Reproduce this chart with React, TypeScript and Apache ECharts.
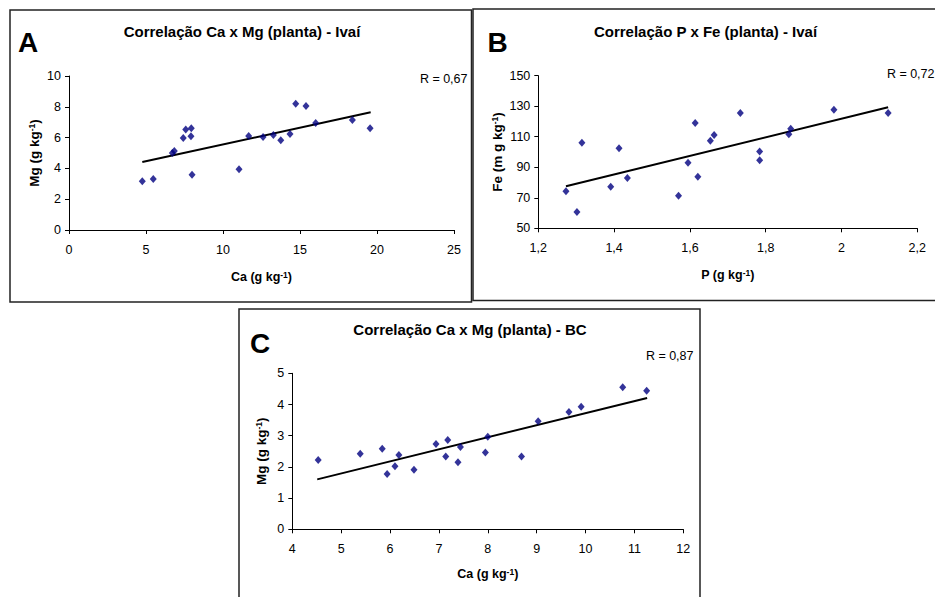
import React, { useEffect, useRef } from "react";
import * as echarts from "echarts";

// Panel A: Ca x Mg (planta) - Ivaí
const caA = [4.76, 5.47, 6.71, 6.84, 7.42, 7.58, 7.94, 7.92, 7.99, 11.04, 11.67, 12.6, 13.27, 13.75, 14.35, 14.72, 15.39, 16.02, 18.4, 19.55];
const mgA = [3.16, 3.31, 5.0, 5.13, 5.97, 6.52, 6.6, 6.08, 3.59, 3.94, 6.1, 6.04, 6.17, 5.82, 6.23, 8.2, 8.05, 6.95, 7.14, 6.6];
const trendAx = [4.76, 19.59];
const trendAy = [4.42, 7.64];

// Panel B: P x Fe (planta) - Ivaí
const pB = [1.273, 1.302, 1.315, 1.391, 1.413, 1.435, 1.57, 1.595, 1.614, 1.621, 1.654, 1.664, 1.733, 1.784, 1.784, 1.861, 1.866, 1.98, 2.123];
const feB = [74.2, 60.7, 106.1, 77.3, 102.4, 83, 71.4, 93, 119, 83.8, 107.4, 111.1, 125.6, 100.4, 94.6, 111.6, 115.3, 127.7, 125.6];
const trendBx = [1.273, 2.123];
const trendBy = [77.5, 129.3];

// Panel C: Ca x Mg (planta) - BC
const caC = [4.53, 5.39, 5.84, 5.94, 6.1, 6.18, 6.49, 6.94, 7.14, 7.18, 7.39, 7.44, 7.95, 8.0, 8.69, 9.03, 9.66, 9.91, 10.76, 11.25];
const mgC = [2.22, 2.42, 2.58, 1.77, 2.02, 2.38, 1.91, 2.73, 2.33, 2.86, 2.15, 2.64, 2.46, 2.97, 2.33, 3.46, 3.76, 3.93, 4.55, 4.44];
const trendCx = [4.51, 11.26];
const trendCy = [1.6, 4.21];

const titles = ["Correlação Ca x Mg (planta) - Ivaí", "Correlação P x Fe (planta) - Ivaí", "Correlação Ca x Mg (planta) - BC"];
const panelLetters = ["A", "B", "C"];
const rLabels = ["R = 0,67", "R = 0,72", "R = 0,87"];
const xNames = ["Ca", "P", "Ca"];
const yNames = ["Mg", "Fe", "Mg"];
const yUnits = ["g kg", "m g kg", "g kg"];

const FONT = '"Liberation Sans", Arial, Helvetica, sans-serif';

const zip = (a: number[], b: number[]) => a.map((v, i) => [v, b[i]]);
const fmtComma = (v: number) => String(Math.round(v * 10) / 10).replace(".", ",");

export default function App() {
  const ref = useRef<HTMLDivElement>(null);
  useEffect(() => {
    if (!ref.current) return;
    const chart = echarts.init(ref.current, undefined, { renderer: "svg" });

    const mkName = (size: number) => ({
      fontFamily: FONT,
      fontWeight: "bold" as const,
      fontSize: size,
      color: "#000",
      rich: {
        s: { fontFamily: FONT, fontWeight: "bold" as const, fontSize: 8.5, color: "#000", verticalAlign: "top" as const, lineHeight: 8 },
      },
    });
    const axisCommon = {
      axisLine: { show: true, lineStyle: { color: "#000", width: 1 } },
      axisTick: { show: true, length: 4, inside: false, lineStyle: { color: "#000" } },
      splitLine: { show: false },
    };
    const xLabel = { color: "#000", fontFamily: FONT, fontSize: 12.5, margin: 13 };
    const yLabel = { color: "#000", fontFamily: FONT, fontSize: 12.5, margin: 8 };

    const grids = [
      { left: 69, top: 76, width: 385, height: 154 },
      { left: 538.3, top: 75.7, width: 379, height: 152.6 },
      { left: 292.3, top: 373.3, width: 391, height: 156 },
    ];

    const xRanges = [
      { min: 0, max: 25, interval: 5 },
      { min: 1.2, max: 2.2, interval: 0.2 },
      { min: 4, max: 12, interval: 1 },
    ];
    const yRanges = [
      { min: 0, max: 10, interval: 2 },
      { min: 50, max: 150, interval: 20 },
      { min: 0, max: 5, interval: 1 },
    ];

    const xAxis = xRanges.map((r, i) => ({
      type: "value" as const,
      gridIndex: i,
      ...r,
      ...axisCommon,
      nameTextStyle: mkName(12.5),
      axisLabel: i === 1 ? { ...xLabel, formatter: (v: number) => fmtComma(v) } : xLabel,
      name: `${xNames[i]} (g kg{s|-1})`,
      nameLocation: "middle" as const,
      nameGap: i === 2 ? 38 : 40,
    }));
    const yAxis = yRanges.map((r, i) => ({
      type: "value" as const,
      gridIndex: i,
      ...r,
      ...axisCommon,
      nameTextStyle: mkName(13.5),
      axisLabel: yLabel,
      name: `${yNames[i]} (${yUnits[i]}{s|-1})`,
      nameLocation: "middle" as const,
      nameRotate: 90,
      nameGap: i === 1 ? 34 : i === 2 ? 24 : 28,
    }));

    const scatter = (i: number, data: number[][]) => ({
      type: "scatter" as const,
      xAxisIndex: i,
      yAxisIndex: i,
      data,
      symbol: "diamond",
      symbolSize: [7, 8],
      itemStyle: { color: "#000080" },
      silent: true,
    });
    const trend = (i: number, xs: number[], ys: number[]) => ({
      type: "line" as const,
      xAxisIndex: i,
      yAxisIndex: i,
      data: zip(xs, ys),
      symbol: "none",
      lineStyle: { color: "#000", width: 2 },
      silent: true,
      z: 1,
    });

    const boxes = [
      { x: 10, y: 10, width: 461.5, height: 292 },
      { x: 473, y: 9, width: 470, height: 291.5 },
      { x: 239, y: 309, width: 461, height: 300 },
    ];
    const titlePos = [
      [242, 31.5],
      [705.5, 31.5],
      [470, 329.5],
    ];
    const letterPos = [
      [18, 42],
      [487.5, 42.5],
      [250, 343],
    ];
    const rPos = [
      [467.5, 78.5],
      [934.5, 74],
      [693.5, 356],
    ];

    const graphic: any[] = [];
    boxes.forEach((b) => {
      graphic.push({ type: "rect", shape: b, style: { fill: "none", stroke: "#222", lineWidth: 1.5 }, silent: true });
    });
    titles.forEach((t, i) => {
      graphic.push({
        type: "text",
        x: titlePos[i][0],
        y: titlePos[i][1],
        style: { text: t, font: `bold 15px ${FONT}`, fill: "#000", textAlign: "center", textVerticalAlign: "middle" },
      });
      graphic.push({
        type: "text",
        x: letterPos[i][0],
        y: letterPos[i][1],
        style: { text: panelLetters[i], font: `bold 28px ${FONT}`, fill: "#000", textAlign: "left", textVerticalAlign: "middle" },
      });
      graphic.push({
        type: "text",
        x: rPos[i][0],
        y: rPos[i][1],
        style: { text: rLabels[i], font: `12.5px ${FONT}`, fill: "#000", textAlign: "right", textVerticalAlign: "middle" },
      });
    });

    chart.setOption({
      animation: false,
      backgroundColor: "#fff",
      grid: grids,
      xAxis,
      yAxis,
      series: [
        trend(0, trendAx, trendAy),
        scatter(0, zip(caA, mgA)),
        trend(1, trendBx, trendBy),
        scatter(1, zip(pB, feB)),
        trend(2, trendCx, trendCy),
        scatter(2, zip(caC, mgC)),
      ],
      graphic,
    });
    return () => chart.dispose();
  }, []);

  return <div ref={ref} style={{ position: "fixed", left: 0, top: 0, width: 935, height: 597 }} />;
}
